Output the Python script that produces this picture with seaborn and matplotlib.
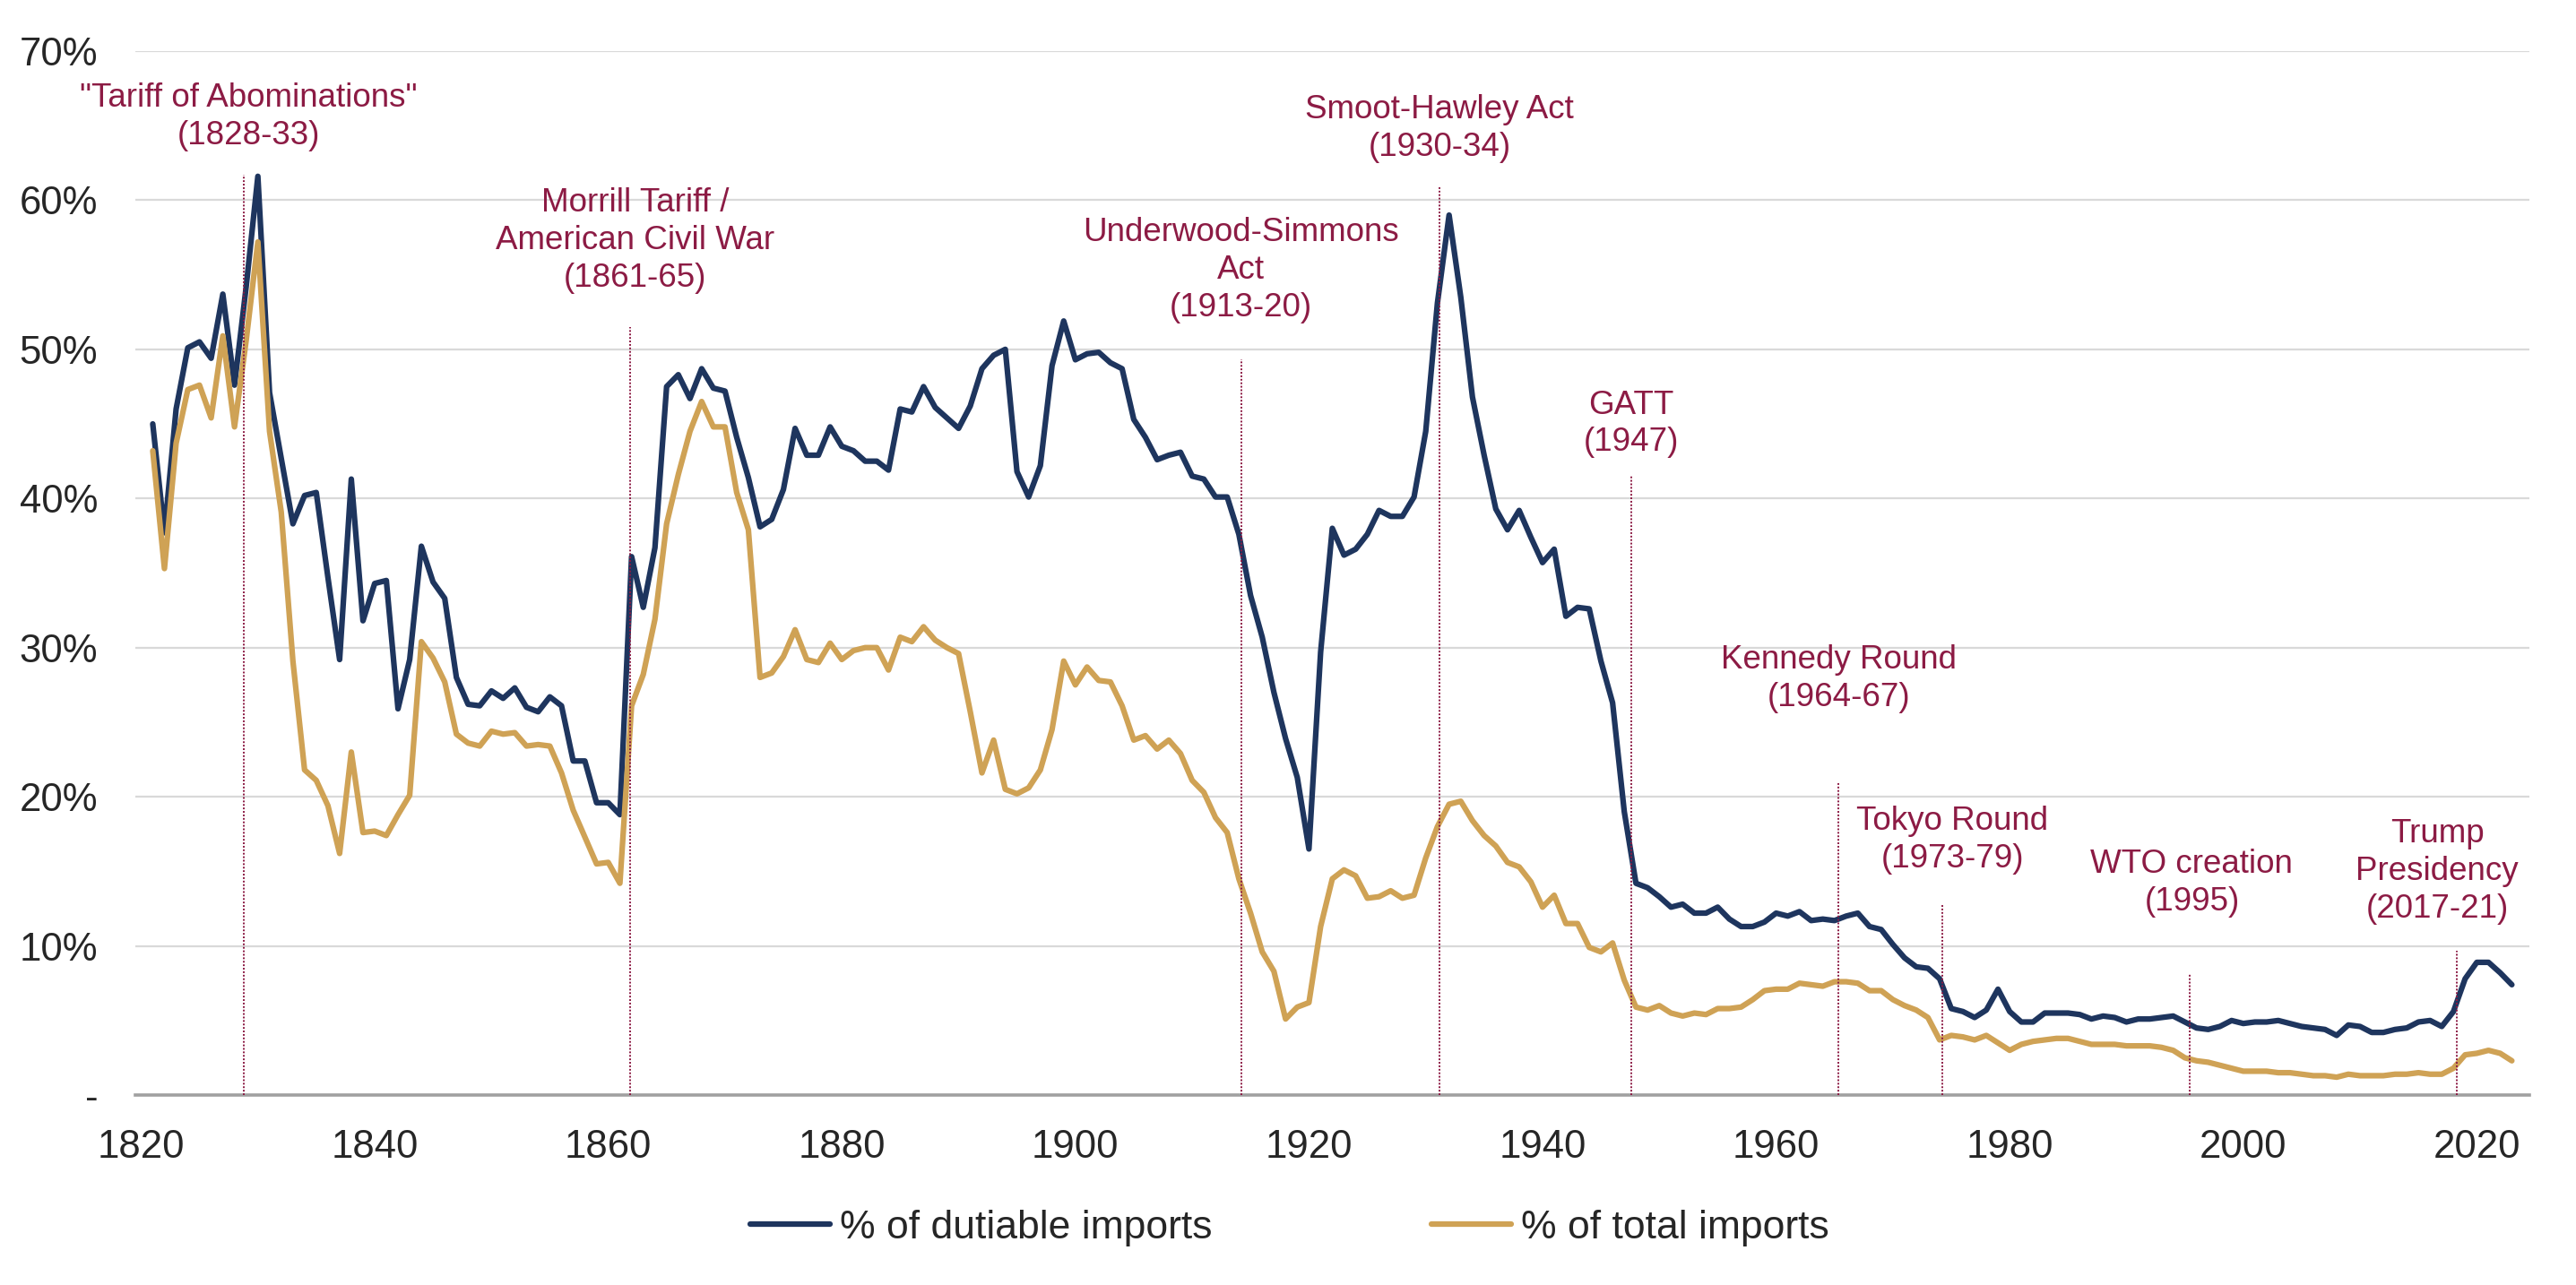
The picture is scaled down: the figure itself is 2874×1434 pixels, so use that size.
import numpy as np
import pandas as pd
import matplotlib.pyplot as plt
import seaborn as sns

# Años 1821-2023
anios = np.arange(1821, 2024)

arancel_gravables = [
    45.0, 37.7, 46.0, 50.1, 50.5, 49.4, 53.7, 47.6, 54.2, 61.6,
    47.1, 42.7, 38.3, 40.2, 40.4, 34.7, 29.2, 41.3, 31.8, 34.3,
    34.5, 25.9, 29.2, 36.8, 34.4, 33.3, 28.0, 26.2, 26.1, 27.1,
    26.6, 27.3, 26.0, 25.7, 26.7, 26.1, 22.4, 22.4, 19.6, 19.6,
    18.8, 36.1, 32.7, 36.7, 47.5, 48.3, 46.7, 48.7, 47.4, 47.2,
    44.1, 41.4, 38.1, 38.6, 40.6, 44.7, 42.9, 42.9, 44.8, 43.5,
    43.2, 42.5, 42.5, 41.9, 46.0, 45.8, 47.5, 46.1, 45.4, 44.7,
    46.2, 48.7, 49.6, 50.0, 41.8, 40.1, 42.2, 48.9, 51.9, 49.3,
    49.7, 49.8, 49.1, 48.7, 45.3, 44.1, 42.6, 42.9, 43.1, 41.5,
    41.3, 40.1, 40.1, 37.6, 33.5, 30.7, 27.0, 23.9, 21.3, 16.5,
    29.7, 38.0, 36.2, 36.6, 37.6, 39.2, 38.8, 38.8, 40.1, 44.5,
    53.1, 59.0, 53.5, 46.8, 42.9, 39.3, 37.9, 39.2, 37.4, 35.7,
    36.6, 32.1, 32.7, 32.6, 29.1, 26.3, 19.0, 14.2, 13.9, 13.3,
    12.6, 12.8, 12.2, 12.2, 12.6, 11.8, 11.3, 11.3, 11.6, 12.2,
    12.0, 12.3, 11.7, 11.8, 11.7, 12.0, 12.2, 11.3, 11.1, 10.1,
    9.2, 8.6, 8.5, 7.8, 5.8, 5.6, 5.2, 5.7, 7.1, 5.6,
    4.9, 4.9, 5.5, 5.5, 5.5, 5.4, 5.1, 5.3, 5.2, 4.9,
    5.1, 5.1, 5.2, 5.3, 4.9, 4.5, 4.4, 4.6, 5.0, 4.8,
    4.9, 4.9, 5.0, 4.8, 4.6, 4.5, 4.4, 4.0, 4.7, 4.6,
    4.2, 4.2, 4.4, 4.5, 4.9, 5.0, 4.6, 5.6, 7.8, 8.9,
    8.9, 8.2, 7.4,
]

arancel_total = [
    43.2, 35.3, 43.7, 47.3, 47.6, 45.4, 50.9, 44.8, 50.6, 57.2,
    44.5, 39.1, 29.1, 21.8, 21.1, 19.4, 16.2, 23.0, 17.6, 17.7,
    17.4, 18.8, 20.1, 30.4, 29.3, 27.7, 24.2, 23.6, 23.4, 24.4,
    24.2, 24.3, 23.4, 23.5, 23.4, 21.6, 19.1, 17.3, 15.5, 15.6,
    14.2, 26.1, 28.2, 31.9, 38.3, 41.6, 44.5, 46.5, 44.8, 44.8,
    40.4, 37.9, 28.0, 28.3, 29.4, 31.2, 29.2, 29.0, 30.3, 29.2,
    29.8, 30.0, 30.0, 28.5, 30.7, 30.4, 31.4, 30.5, 30.0, 29.6,
    25.7, 21.6, 23.8, 20.5, 20.2, 20.6, 21.8, 24.5, 29.1, 27.5,
    28.7, 27.8, 27.7, 26.1, 23.8, 24.1, 23.2, 23.8, 22.9, 21.1,
    20.3, 18.6, 17.6, 14.5, 12.2, 9.6, 8.3, 5.1, 5.9, 6.2,
    11.3, 14.5, 15.1, 14.7, 13.2, 13.3, 13.7, 13.2, 13.4, 15.9,
    18.0, 19.5, 19.7, 18.4, 17.4, 16.7, 15.6, 15.3, 14.3, 12.6,
    13.4, 11.5, 11.5, 9.9, 9.6, 10.2, 7.7, 5.9, 5.7, 6.0,
    5.5, 5.3, 5.5, 5.4, 5.8, 5.8, 5.9, 6.4, 7.0, 7.1,
    7.1, 7.5, 7.4, 7.3, 7.6, 7.6, 7.5, 7.0, 7.0, 6.4,
    6.0, 5.7, 5.2, 3.7, 4.0, 3.9, 3.7, 4.0, 3.5, 3.0,
    3.4, 3.6, 3.7, 3.8, 3.8, 3.6, 3.4, 3.4, 3.4, 3.3,
    3.3, 3.3, 3.2, 3.0, 2.5, 2.3, 2.2, 2.0, 1.8, 1.6,
    1.6, 1.6, 1.5, 1.5, 1.4, 1.3, 1.3, 1.2, 1.4, 1.3,
    1.3, 1.3, 1.4, 1.4, 1.5, 1.4, 1.4, 1.8, 2.7, 2.8,
    3.0, 2.8, 2.3,
]

# Hitos de política comercial
eventos = [
    '"Tariff of Abominations"\n(1828-33)',
    'Morrill Tariff /\nAmerican Civil War\n(1861-65)',
    'Underwood-Simmons\nAct\n(1913-20)',
    'Smoot-Hawley Act\n(1930-34)',
    'GATT\n(1947)',
    'Kennedy Round\n(1964-67)',
    'Tokyo Round\n(1973-79)',
    'WTO creation\n(1995)',
    'Trump\nPresidency\n(2017-21)',
]
evento_x = [1828.8, 1861.9, 1914.2, 1931.2, 1947.6, 1965.3, 1974.2, 1995.4, 2018.3]
evento_tope = [61.7, 51.5, 49.3, 60.9, 41.5, 21.0, 12.8, 8.1, 9.7]
texto_x = [1829.2, 1862.3, 1914.2, 1931.2, 1947.6, 1965.4, 1975.1, 1995.6, 2016.6]
texto_y = [65.6, 57.3, 55.3, 64.8, 45.0, 27.9, 17.1, 14.2, 15.0]

azul = '#1E355E'
dorado = '#CFA255'
granate = '#8C1B44'

df = pd.DataFrame({'anio': anios,
                   '% of dutiable imports': arancel_gravables,
                   '% of total imports': arancel_total})

sns.set_style('white')
plt.rcParams['font.family'] = ['Liberation Sans', 'DejaVu Sans']

fig = plt.figure(figsize=(28.74, 14.34), dpi=100)
ax = fig.add_axes([0.0525, 0.1478, 0.9294, 0.8125])

sns.lineplot(data=df, x='anio', y='% of dutiable imports', color=azul,
             linewidth=4.5, label='% of dutiable imports', ax=ax, legend=False, zorder=2)
sns.lineplot(data=df, x='anio', y='% of total imports', color=dorado,
             linewidth=4.5, label='% of total imports', ax=ax, legend=False, zorder=2)

ax.vlines(evento_x, 0, evento_tope, colors=granate, linestyles=(0, (1, 1)),
          linewidth=1.4, zorder=3)

for txt, x, y in zip(eventos, texto_x, texto_y):
    ax.text(x, y, txt, ha='center', va='center', fontsize=26.5, color=granate,
            linespacing=1.25)

ax.set_xlim(1819.5, 2024.5)
ax.set_ylim(0, 70)
ax.set_xticks(range(1820, 2021, 20))
ax.set_yticks(range(0, 71, 10))
ax.set_yticklabels(['-'] + [f'{v}%' for v in range(10, 71, 10)])
ax.set_xlabel('')
ax.set_ylabel('')
ax.tick_params(axis='x', length=0, pad=27, labelsize=31.5)
ax.tick_params(axis='y', length=0, pad=30, labelsize=31.5)

ax.yaxis.grid(True, color='#D9D9D9', linewidth=1.6)
ax.xaxis.grid(False)
ax.set_axisbelow(True)
for s in ['top', 'right', 'left']:
    ax.spines[s].set_visible(False)
ax.spines['bottom'].set_color('#A0A0A0')
ax.spines['bottom'].set_linewidth(2.6)

handles, labels = ax.get_legend_handles_labels()
fig.legend(handles, labels, loc='center', bbox_to_anchor=(0.5007, 0.0446), ncol=2,
           frameon=False, fontsize=32, handlelength=2.0, handletextpad=0.25,
           columnspacing=5.5)

fig.savefig('out.png', dpi=100)
